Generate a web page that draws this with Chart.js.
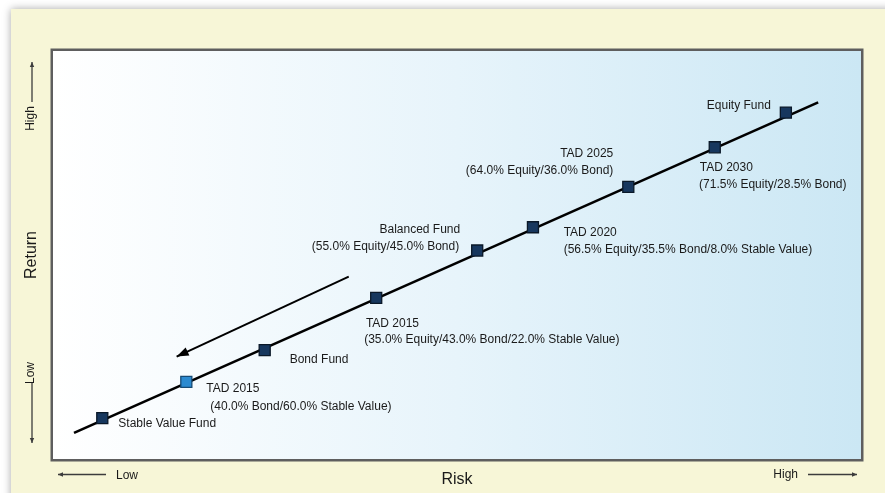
<!DOCTYPE html>
<html><head><meta charset="utf-8">
<script src="https://cdn.jsdelivr.net/npm/chart.js@4.4.1/dist/chart.umd.min.js"></script>
<style>html,body{margin:0;padding:0;background:#fff;}canvas{display:block;}</style>
</head><body>
<canvas id="c" width="885" height="493"></canvas>
<script>
// ---- data ----
const fundNames = ['Stable Value Fund','TAD 2015','Bond Fund','TAD 2015','Balanced Fund','TAD 2020','TAD 2025','TAD 2030','Equity Fund'];
const fundMixes = ['','(40.0% Bond/60.0% Stable Value)','','(35.0% Equity/43.0% Bond/22.0% Stable Value)','(55.0% Equity/45.0% Bond)','(56.5% Equity/35.5% Bond/8.0% Stable Value)','(64.0% Equity/36.0% Bond)','(71.5% Equity/28.5% Bond)',''];
const riskValues   = [6.1, 16.5, 26.2, 40.0, 52.5, 59.4, 71.2, 81.9, 90.7];
const returnValues = [10.0, 18.9, 26.7, 39.5, 51.1, 56.8, 66.7, 76.4, 84.9];
const trendRisk    = [2.6, 94.7];
const trendReturn  = [6.4, 87.4];
const arrowRisk    = [36.6, 15.3];
const arrowReturn  = [44.7, 25.1];
const xTitle = 'Risk';
const yTitle = 'Return';
const lowLabel = 'Low';
const highLabel = 'High';

// ---- styles ----
const FONT = "'Liberation Sans', Arial, sans-serif";
const TEXT = '#1a1a1a';
const NAVY = '#17375e', NAVY_B = '#0a1828';
const LIGHT = '#2b8ad0', LIGHT_B = '#164a74';
const highlightIdx = 1;
// label placement relative to marker: align, dx, dy (first line), dx2, line height
const labelStyle = [
  {a:'left',  dx:16,  dy:5,     dx2:16,  lh:17},
  {a:'left',  dx:20,  dy:6.6,   dx2:24,  lh:18.4},
  {a:'left',  dx:25,  dy:9.3,   dx2:25,  lh:17},
  {a:'left',  dx:-10.3,dy:25.6, dx2:-12, lh:16},
  {a:'right', dx:-17, dy:-20.7, dx2:-18, lh:16.7},
  {a:'left',  dx:30.7,dy:5.4,   dx2:30.7,lh:16.6},
  {a:'right', dx:-15, dy:-33.4, dx2:-15, lh:17.4},
  {a:'left',  dx:-15, dy:20.4,  dx2:-15.7,lh:17.3},
  {a:'right', dx:-15, dy:-6.7,  dx2:-15, lh:17}
];

function arrowHead(ctx, x, y, ang, len, hw) {
  ctx.beginPath();
  ctx.moveTo(x, y);
  ctx.lineTo(x - len*Math.cos(ang) + hw*Math.sin(ang), y - len*Math.sin(ang) - hw*Math.cos(ang));
  ctx.lineTo(x - len*Math.cos(ang) - hw*Math.sin(ang), y - len*Math.sin(ang) + hw*Math.cos(ang));
  ctx.closePath();
  ctx.fill();
}
function thinArrow(ctx, x1, y1, x2, y2) {
  ctx.beginPath(); ctx.moveTo(x1, y1); ctx.lineTo(x2, y2); ctx.stroke();
  arrowHead(ctx, x2, y2, Math.atan2(y2-y1, x2-x1), 5, 2.2);
}

const decor = {
  id: 'decor',
  beforeDraw(chart) {
    const ctx = chart.ctx, a = chart.chartArea;
    ctx.save();
    ctx.fillStyle = '#ffffff';
    ctx.fillRect(0, 0, chart.width, chart.height);
    ctx.shadowColor = 'rgba(0,0,0,0.35)';
    ctx.shadowBlur = 8;
    ctx.fillStyle = '#f7f6d7';
    ctx.fillRect(11, 9, chart.width + 20, chart.height + 20);
    ctx.shadowColor = 'transparent';
    const g = ctx.createLinearGradient(a.left, 0, a.right, 0);
    g.addColorStop(0, '#ffffff');
    g.addColorStop(0.5, '#e7f4fb');
    g.addColorStop(1, '#cbe7f4');
    ctx.fillStyle = g;
    ctx.fillRect(a.left, a.top, a.right - a.left, a.bottom - a.top);
    ctx.strokeStyle = '#5e5e5e';
    ctx.lineWidth = 2.5;
    ctx.strokeRect(a.left - 1.25, a.top - 1.25, a.right - a.left + 2.5, a.bottom - a.top + 2.5);
    ctx.restore();
  },
  afterDatasetsDraw(chart) {
    const ctx = chart.ctx, a = chart.chartArea;
    ctx.save();
    // direction arrow head
    const am = chart.getDatasetMeta(1).data;
    ctx.fillStyle = '#000';
    arrowHead(ctx, am[1].x, am[1].y, Math.atan2(am[1].y - am[0].y, am[1].x - am[0].x), 12, 4.5);
    // labels
    const fm = chart.getDatasetMeta(2).data;
    ctx.font = '12px ' + FONT;
    ctx.fillStyle = TEXT;
    ctx.textBaseline = 'middle';
    fm.forEach((p, i) => {
      const s = labelStyle[i];
      ctx.textAlign = s.a;
      ctx.fillText(fundNames[i], p.x + s.dx, p.y + s.dy);
      if (fundMixes[i]) ctx.fillText(fundMixes[i], p.x + s.dx2, p.y + s.dy + s.lh);
    });
    // axis low/high markers
    ctx.strokeStyle = '#3c3c3c'; ctx.fillStyle = '#3c3c3c'; ctx.lineWidth = 1.3;
    const by = a.bottom + 15.5;
    thinArrow(ctx, a.left + 53, by, a.left + 5, by);
    thinArrow(ctx, a.right - 53, by, a.right - 4, by);
    const lx = 32;
    thinArrow(ctx, lx, a.top + 51, lx, a.top + 11);
    thinArrow(ctx, lx, a.bottom - 76, lx, a.bottom - 16);
    ctx.fillStyle = TEXT;
    ctx.textBaseline = 'middle';
    ctx.textAlign = 'left';
    ctx.fillText(lowLabel, a.left + 63, by + 1);
    ctx.textAlign = 'right';
    ctx.fillText(highLabel, a.right - 63, by);
    ctx.save(); ctx.translate(lx - 1, a.top + 67.5); ctx.rotate(-Math.PI/2);
    ctx.textAlign = 'center'; ctx.fillText(highLabel, 0, 0); ctx.restore();
    ctx.save(); ctx.translate(lx - 1, a.bottom - 86); ctx.rotate(-Math.PI/2);
    ctx.textAlign = 'center'; ctx.fillText(lowLabel, 0, 0); ctx.restore();
    ctx.restore();
  }
};

const hiddenAxis = {
  grid: {display:false, drawTicks:false},
  border: {display:false},
  ticks: {display:false},
  min: 0, max: 100
};

new Chart(document.getElementById('c'), {
  type: 'scatter',
  data: {
    datasets: [
      { label:'Trend', data: trendRisk.map((x,i)=>({x, y: trendReturn[i]})),
        showLine:true, borderColor:'#000', borderWidth:2.6, pointRadius:0, order:3 },
      { label:'Direction', data: arrowRisk.map((x,i)=>({x, y: arrowReturn[i]})),
        showLine:true, borderColor:'#000', borderWidth:2, pointRadius:0, order:2 },
      { label:'Funds', data: riskValues.map((x,i)=>({x, y: returnValues[i]})),
        pointStyle:'rect', pointRadius:7.8, pointHoverRadius:7.8, borderWidth:1.3,
        backgroundColor: c => c.dataIndex === highlightIdx ? LIGHT : NAVY,
        borderColor: c => c.dataIndex === highlightIdx ? LIGHT_B : NAVY_B,
        order:1 }
    ]
  },
  options: {
    responsive:false, animation:false, devicePixelRatio:1,
    layout: {padding:{top:51, right:24, left:0, bottom:0}},
    plugins: {legend:{display:false}, tooltip:{enabled:false}},
    events: [],
    scales: {
      x: Object.assign({}, hiddenAxis, {type:'linear', position:'bottom',
        title:{display:true, text:xTitle, color:TEXT, font:{family:FONT, size:16}, padding:{top:10.7, bottom:4.1}}}),
      y: Object.assign({}, hiddenAxis, {type:'linear', position:'left',
        title:{display:true, text:yTitle, color:TEXT, font:{family:FONT, size:16}, padding:{top:22, bottom:11.8}}})
    }
  },
  plugins: [decor]
});
</script>
</body></html>
